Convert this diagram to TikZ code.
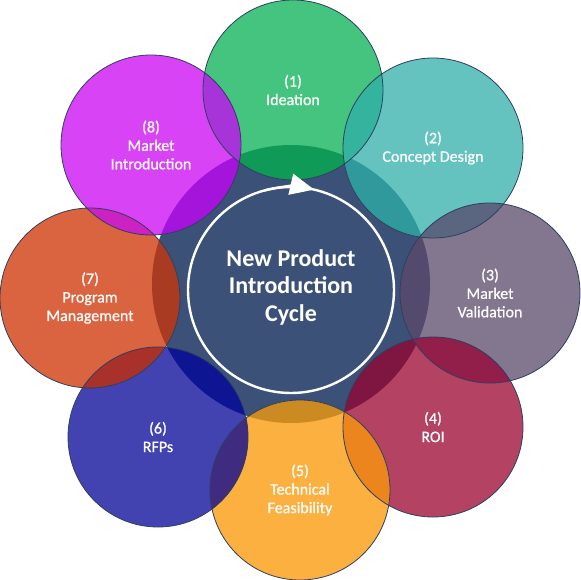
\documentclass[tikz,border=0pt]{standalone}
\usepackage{fontspec}
\setmainfont{Carlito}
\newfontfamily\stagefont{Carlito}[FakeBold=0.7]
\usetikzlibrary{positioning,arrows.meta}

\definecolor{hubblue}{HTML}{3B5177}
\definecolor{rimline}{HTML}{2E3F5E}
\definecolor{ideacol}{HTML}{44C47F}   \definecolor{ideadark}{HTML}{0F9A57}
\definecolor{conceptcol}{HTML}{64C3BF}\definecolor{conceptdark}{HTML}{30999B}
\definecolor{validcol}{HTML}{83768F}  \definecolor{validdark}{HTML}{544A6E}
\definecolor{roicol}{HTML}{B44263}    \definecolor{roidark}{HTML}{7F1642}
\definecolor{feascol}{HTML}{FBB040}   \definecolor{feasdark}{HTML}{CB8A22}
\definecolor{rfpcol}{HTML}{4242B0}    \definecolor{rfpdark}{HTML}{0E1592}
\definecolor{progcol}{HTML}{DA643F}   \definecolor{progdark}{HTML}{A83B22}
\definecolor{introcol}{HTML}{D843F6}  \definecolor{introdark}{HTML}{A514DB}
% overlaps of neighbouring stages
\definecolor{lensA}{HTML}{34B39F} % 1-2
\definecolor{lensB}{HTML}{5A6680} % 2-3
\definecolor{lensC}{HTML}{921E4A} % 3-4
\definecolor{lensD}{HTML}{EC851E} % 4-5
\definecolor{lensE}{HTML}{3F2C80} % 5-6
\definecolor{lensF}{HTML}{A8312B} % 6-7
\definecolor{lensG}{HTML}{CC22C4} % 7-8
\definecolor{lensH}{HTML}{A634D8} % 8-1

\begin{document}
\begin{tikzpicture}[x=1pt,y=-1pt]
\tikzset{
    stage/.style={circle, minimum size=180pt, inner sep=0pt, text=white, align=center, font=\stagefont\fontsize{16}{18.5}\selectfont},
    rim/.style={draw=rimline, line width=0.8pt}
}
\useasboundingbox (0,0) rectangle (580,580);

\coordinate (hub) at (291,284);
\coordinate (ring) at (291,290);
\coordinate (p1) at (293,90);
\coordinate (p2) at (433,148);
\coordinate (p3) at (490,293);
\coordinate (p4) at (433,427);
\coordinate (p5) at (300,490);
\coordinate (p6) at (158,437);
\coordinate (p7) at (90,298);
\coordinate (p8) at (151,145);

\fill[hubblue] (hub) circle (139);

\node[stage, fill=ideacol, path picture={\fill[ideadark] (hub) circle (139); \fill[lensH] (p8) circle (90); \fill[lensA] (p2) circle (90);}] (ideation) at (p1) {(1)\\Ideation};
\node[stage, fill=conceptcol, path picture={\fill[conceptdark] (hub) circle (139); \fill[lensA] (p1) circle (90); \fill[lensB] (p3) circle (90);}] (concept) at (p2) {(2)\\Concept Design};
\node[stage, fill=validcol, path picture={\fill[validdark] (hub) circle (139); \fill[lensB] (p2) circle (90); \fill[lensC] (p4) circle (90);}] (validation) at (p3) {(3)\\Market\\Validation};
\node[stage, fill=roicol, path picture={\fill[roidark] (hub) circle (139); \fill[lensC] (p3) circle (90); \fill[lensD] (p5) circle (90);}] (roi) at (p4) {(4)\\ROI};
\node[stage, fill=feascol, path picture={\fill[feasdark] (hub) circle (139); \fill[lensD] (p4) circle (90); \fill[lensE] (p6) circle (90);}] (feasibility) at (p5) {(5)\\Technical\\Feasibility};
\node[stage, fill=rfpcol, path picture={\fill[rfpdark] (hub) circle (139); \fill[lensE] (p5) circle (90); \fill[lensF] (p7) circle (90);}] (rfps) at (p6) {(6)\\RFPs};
\node[stage, fill=progcol, path picture={\fill[progdark] (hub) circle (139); \fill[lensF] (p6) circle (90); \fill[lensG] (p8) circle (90);}] (program) at (p7) {(7)\\Program\\Management};
\node[stage, fill=introcol, path picture={\fill[introdark] (hub) circle (139); \fill[lensG] (p7) circle (90); \fill[lensH] (p1) circle (90);}] (intro) at (p8) {(8)\\Market\\Introduction};

\foreach \n in {p1,p2,p3,p4,p5,p6,p7,p8}
    \draw[rim] (\n) circle (90);

\draw[white, line width=2.4pt] (ring) circle (103);
\draw[white, line width=2.4pt, -{Triangle[length=24pt,width=21pt]}] ([shift={(-105:103)}]ring) arc[start angle=-105, end angle=-77, radius=103];
\node[text=white, align=center, font=\fontsize{24}{27.5}\selectfont\bfseries] (cycle) at (291,287) {New Product\\Introduction\\Cycle};
\end{tikzpicture}
\end{document}
